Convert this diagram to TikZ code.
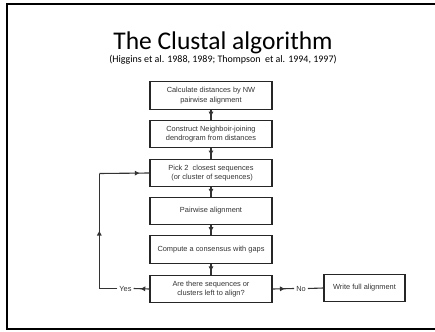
\documentclass[tikz,border=0pt]{standalone}
\usepackage{fontspec}
\setmainfont{Carlito}
\newfontfamily\boxfont{Liberation Sans}
\usetikzlibrary{arrows.meta,decorations.markings}
\tikzset{
  stepbox/.style={draw=black!85, line width=1.4pt, minimum width=122pt, minimum height=27.5pt,
    inner sep=0pt, align=center, font=\boxfont\fontsize{7.4}{9.3}\selectfont, text=black!80},
  conn/.style={draw=black!80, line width=1.1pt},
  tipat/.style={postaction={decorate}, decoration={markings,
    mark=at position #1 with {\arrow{Triangle[length=4.5pt,width=4.5pt]}}}},
  lbl/.style={font=\boxfont\fontsize{7.4}{9}\selectfont, text=black!80, inner sep=2pt}
}
\begin{document}
\begin{tikzpicture}[x=1pt,y=-1pt]
\useasboundingbox (0,0) rectangle (435,331);
\draw[line width=2.2pt] (7,4) rectangle (445,329);
\node[anchor=base, font=\fontsize{25.5}{30}\selectfont, inner sep=0pt] (title) at (223,49.5) {The Clustal algorithm};
\node[anchor=base, font=\fontsize{10}{12}\selectfont, inner sep=0pt] (sub) at (223,62.5) {(Higgins et al. 1988, 1989; Thompson\ \ et al. 1994, 1997)};
\node[stepbox] (b1) at (211,95.5) {Calculate distances by NW\\pairwise alignment};
\node[stepbox] (b2) at (211,134) {Construct Neighboir-joining\\dendrogram from distances};
\node[stepbox] (b3) at (211,173) {Pick 2\ \ closest sequences\\\ (or cluster of sequences)};
\node[stepbox] (b4) at (211,211) {Pairwise alignment};
\node[stepbox] (b5) at (211,249.5) {Compute a consensus with gaps};
\node[stepbox] (b6) at (211,289) {Are there sequences or\\clusters left to align?};
\node[stepbox, minimum width=81pt] (b7) at (364.5,288) {Write full alignment};
\node[lbl] (yes) at (125.5,288.5) {Yes};
\node[lbl] (no) at (301,288.5) {No};
\coordinate (c1) at (99.3,288.5);
\coordinate (c2) at (99.3,173.5);
\draw[conn, tipat=0.65] (b1.south) -- (b2.north);
\draw[conn, tipat=0.65] (b2.south) -- (b3.north);
\draw[conn, tipat=0.65] (b3.south) -- (b4.north);
\draw[conn, tipat=0.65] (b4.south) -- (b5.north);
\draw[conn, tipat=0.65] (b5.south) -- (b6.north);
\draw[conn, tipat=0.55] (b6.west) -- (yes.east);
\draw[conn] (yes.west) -- (c1);
\draw[conn, tipat=0.5] (c1) -- (c2);
\draw[conn, tipat=0.8] (c2) -- (b3.west);
\draw[conn, tipat=0.55] (b6.east) -- (no.west);
\draw[conn] (no.east) -- (b7.west);
\end{tikzpicture}
\end{document}
